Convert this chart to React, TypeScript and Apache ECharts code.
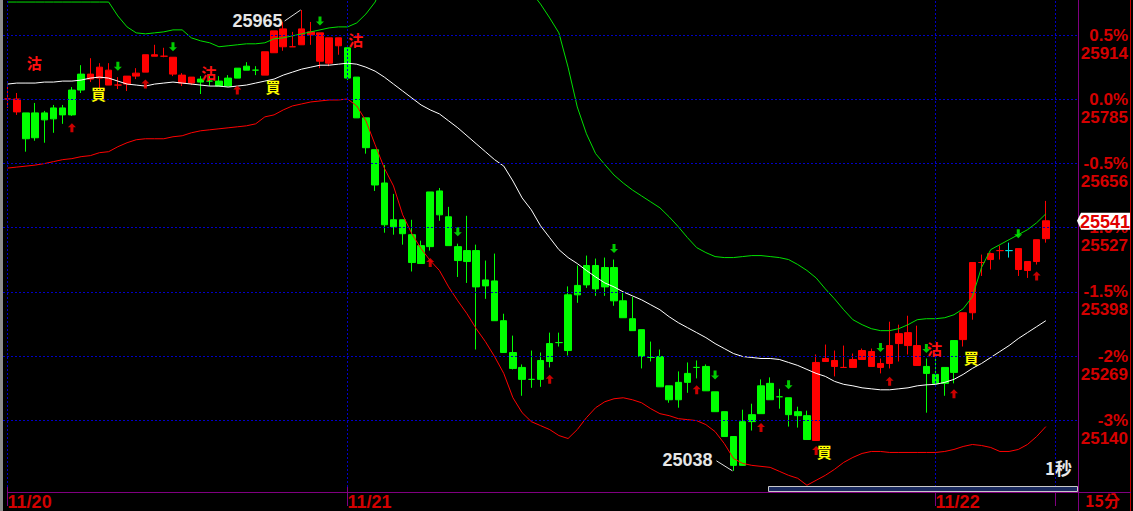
import React, { useEffect, useRef } from 'react';
import * as echarts from 'echarts';

// ---- axis / session data ----
const slotCount = 117;
const dateLabels = ['11/20', '11/21', '11/22'];
const dateStartIndex = [0, 37, 101];
const dividerIndex = [0, 37, 101, 114];
const priceTicks = [25914, 25785, 25656, 25527, 25398, 25269, 25140];
const pctLabels = ['0.5%', '0.0%', '-0.5%', '-1.0%', '-1.5%', '-2%', '-3%'];
const yMin = 25005.5;
const yMax = 25985.1;

// ---- 15-minute candles: [open, close, low, high] ----
const candles: number[][] = [
  [25786, 25786, 25768, 25812], [25760, 25786, 25754, 25798], [25758, 25706, 25680, 25758], [25758, 25708, 25702, 25778],
  [25758, 25744, 25698, 25762], [25768, 25746, 25718, 25774], [25768, 25754, 25736, 25774], [25804, 25754, 25752, 25810],
  [25836, 25804, 25798, 25854], [25826, 25836, 25820, 25868], [25828, 25850, 25808, 25858], [25814, 25844, 25814, 25858],
  [25814, 25814, 25806, 25830], [25816, 25832, 25802, 25832], [25832, 25838, 25826, 25848], [25840, 25875, 25840, 25875],
  [25872, 25875, 25872, 25895], [25872, 25872, 25870, 25889], [25836, 25870, 25832, 25870], [25818, 25834, 25812, 25838],
  [25818, 25830, 25814, 25830], [25826, 25820, 25796, 25832], [25822, 25822, 25812, 25832], [25822, 25812, 25812, 25832],
  [25828, 25812, 25812, 25834], [25848, 25828, 25828, 25848], [25852, 25844, 25844, 25860], [25844, 25844, 25834, 25852],
  [25834, 25881, 25834, 25881], [25879, 25923, 25879, 25923], [25891, 25927, 25883, 25941], [25891, 25891, 25891, 25921],
  [25895, 25927, 25895, 25965], [25915, 25921, 25895, 25941], [25862, 25919, 25848, 25919], [25858, 25909, 25852, 25909],
  [25893, 25909, 25875, 25909], [25889, 25828, 25824, 25889], [25830, 25748, 25748, 25830], [25748, 25688, 25676, 25748],
  [25684, 25613, 25601, 25684], [25617, 25533, 25517, 25653], [25543, 25529, 25513, 25595], [25543, 25515, 25493, 25543],
  [25513, 25457, 25439, 25543], [25491, 25455, 25455, 25501], [25599, 25489, 25481, 25599], [25601, 25553, 25541, 25607],
  [25549, 25491, 25491, 25569], [25489, 25461, 25428, 25495], [25481, 25459, 25416, 25551], [25481, 25408, 25282, 25493],
  [25422, 25410, 25384, 25461], [25420, 25340, 25340, 25475], [25340, 25276, 25276, 25354], [25276, 25244, 25242, 25310],
  [25246, 25222, 25189, 25252], [25222, 25222, 25205, 25280], [25260, 25222, 25207, 25276], [25294, 25258, 25246, 25316],
  [25296, 25296, 25288, 25316], [25392, 25280, 25270, 25409], [25411, 25392, 25376, 25451], [25451, 25412, 25406, 25471],
  [25451, 25404, 25390, 25465], [25447, 25408, 25390, 25467], [25447, 25380, 25370, 25463], [25380, 25346, 25346, 25396],
  [25344, 25320, 25320, 25388], [25322, 25268, 25244, 25322], [25266, 25266, 25258, 25298], [25268, 25207, 25207, 25282],
  [25209, 25181, 25175, 25209], [25216, 25181, 25165, 25238], [25234, 25216, 25195, 25256], [25246, 25246, 25224, 25260],
  [25248, 25199, 25199, 25252], [25197, 25157, 25157, 25197], [25157, 25107, 25107, 25157], [25107, 25049, 25038, 25107],
  [25137, 25049, 25049, 25161], [25151, 25137, 25119, 25173], [25209, 25153, 25153, 25222], [25214, 25181, 25181, 25226],
  [25187, 25187, 25163, 25203], [25185, 25151, 25127, 25185], [25157, 25149, 25125, 25167], [25149, 25101, 25101, 25159],
  [25099, 25256, 25099, 25272], [25258, 25264, 25258, 25292], [25248, 25260, 25228, 25280], [25246, 25246, 25246, 25290],
  [25246, 25262, 25246, 25274], [25262, 25280, 25262, 25284], [25248, 25278, 25248, 25284], [25246, 25254, 25234, 25264],
  [25254, 25290, 25244, 25338], [25294, 25314, 25258, 25332], [25290, 25316, 25272, 25350], [25250, 25290, 25250, 25330],
  [25248, 25234, 25155, 25264], [25232, 25214, 25214, 25274], [25246, 25214, 25189, 25246], [25300, 25236, 25214, 25300],
  [25302, 25356, 25288, 25356], [25356, 25457, 25342, 25457], [25457, 25457, 25430, 25473], [25463, 25475, 25443, 25477],
  [25481, 25481, 25463, 25491], [25481, 25481, 25467, 25497], [25443, 25485, 25430, 25485], [25441, 25459, 25426, 25459],
  [25459, 25503, 25453, 25503], [25505, 25541, 25497, 25581],
];

// doji candles colour: [index, colour]
const dojiColors: [number, string][] = [
  [0, '#ff0000'], [12, '#ff0000'], [17, '#ff0000'], [22, '#00ff00'], [27, '#00ff00'], [31, '#ff0000'],
  [57, '#00ff00'], [60, '#00ff00'], [70, '#00ff00'], [75, '#00ff00'], [84, '#00ff00'], [91, '#ff0000'],
  [106, '#ff0000'], [108, '#ff0000'], [109, '#00e0e0'],
];

// ---- bands ----
const upperBand = [
  25981, 25981, 25981, 25981, 25981, 25981, 25981, 25981, 25981, 25981, 25981, 25981,
  25953, 25931, 25919, 25917, 25919, 25921, 25925, 25925, 25909, 25903, 25899, 25891,
  25893, 25895, 25897, 25897, 25899, 25907, 25909, 25913, 25917, 25921, 25925, 25929,
  25931, 25931, 25939, 25957, 25981, 26025, 26065, 26105, 26135, 26155, 26175, 26185,
  26195, 26195, 26195, 26185, 26175, 26155, 26125, 26095, 26065, 26001, 25977, 25949,
  25919, 25850, 25770, 25716, 25676, 25654, 25633, 25617, 25603, 25591, 25579, 25567,
  25549, 25529, 25507, 25487, 25477, 25469, 25467, 25467, 25469, 25471, 25471, 25469,
  25467, 25463, 25453, 25441, 25426, 25404, 25384, 25362, 25342, 25332, 25324, 25320,
  25320, 25324, 25332, 25342, 25344, 25344, 25346, 25352, 25364, 25388, 25447, 25483,
  25493, 25503, 25513, 25523, 25537, 25555,
];
const midBand = [
  25816, 25818, 25818, 25818, 25820, 25820, 25822, 25822, 25824, 25828, 25830, 25828,
  25822, 25816, 25814, 25812, 25816, 25818, 25820, 25818, 25816, 25814, 25812, 25812,
  25810, 25812, 25814, 25818, 25822, 25826, 25834, 25840, 25846, 25850, 25854, 25854,
  25856, 25858, 25856, 25850, 25842, 25830, 25816, 25802, 25788, 25774, 25764, 25756,
  25742, 25728, 25712, 25696, 25680, 25664, 25651, 25621, 25587, 25563, 25531, 25507,
  25483, 25467, 25455, 25441, 25428, 25416, 25408, 25398, 25390, 25382, 25372, 25362,
  25348, 25336, 25326, 25316, 25306, 25294, 25284, 25274, 25268, 25266, 25264, 25264,
  25262, 25256, 25250, 25242, 25234, 25228, 25218, 25212, 25209, 25205, 25203, 25201,
  25201, 25203, 25205, 25209, 25211, 25212, 25216, 25222, 25232, 25244, 25254, 25266,
  25278, 25290, 25304, 25316, 25328, 25340,
];
const lowerBand = [
  25647, 25649, 25651, 25653, 25656, 25660, 25664, 25666, 25670, 25672, 25678, 25680,
  25690, 25698, 25704, 25706, 25706, 25706, 25710, 25712, 25718, 25722, 25724, 25726,
  25728, 25730, 25732, 25736, 25750, 25754, 25764, 25772, 25776, 25780, 25782, 25784,
  25784, 25786, 25772, 25742, 25694, 25647, 25611, 25553, 25515, 25485, 25461, 25441,
  25408, 25380, 25354, 25324, 25298, 25268, 25234, 25185, 25155, 25137, 25129, 25121,
  25109, 25103, 25121, 25145, 25165, 25177, 25183, 25185, 25181, 25175, 25163, 25153,
  25149, 25143, 25141, 25139, 25131, 25117, 25093, 25063, 25053, 25049, 25047, 25045,
  25037, 25029, 25023, 25009, 25019, 25029, 25041, 25055, 25065, 25073, 25077, 25077,
  25075, 25075, 25075, 25075, 25075, 25075, 25077, 25081, 25087, 25091, 25089, 25085,
  25077, 25077, 25081, 25091, 25107, 25127,
];

// ---- signals: [index, price] ----
const upArrows = [[7, 25728], [15, 25816], [25, 25804], [46, 25457], [59, 25222], [75, 25201], [82, 25125], [88, 25079], [96, 25218], [103, 25193], [112, 25430]];
const downArrows = [[12, 25852], [18, 25891], [34, 25943], [49, 25519], [66, 25485], [77, 25231], [85, 25211], [95, 25286], [100, 25284], [110, 25515]];
const sellMarks = [[3, 25860], [22, 25840], [38, 25905], [101, 25284]];
const buyMarks = [[10, 25798], [29, 25812], [89, 25077], [105, 25266]];

const categories = Array.from({ length: slotCount }, (_, i) => String(i));

const RED_TEXT = '#d40000';
const PURPLE = '#800080';
const GRID_BLUE = '#0000c8';
const UP_ARROW = 'path://M4,0 L8,4 L5.5,4 L5.5,9 L2.5,9 L2.5,4 L0,4 Z';
const DOWN_ARROW = 'path://M2.5,0 L5.5,0 L5.5,5 L8,5 L4,9 L0,5 L2.5,5 Z';

export default function App() {
  const ref = useRef<HTMLDivElement>(null);
  useEffect(() => {
    document.body.style.margin = '0';
    document.body.style.background = '#000';
    const chart = echarts.init(ref.current as HTMLDivElement, null, { renderer: 'svg' });

    const dojiMap = new Map(dojiColors);
    const candleData = candles.map((c, i) => {
      const col = dojiMap.get(i);
      if (!col) return c;
      return { value: c, itemStyle: { color: col, color0: col, borderColor: col, borderColor0: col, borderColorDoji: col } };
    });

    const option: any = {
      animation: false,
      backgroundColor: '#000',
      grid: { left: 3, right: 55, top: 0, bottom: 19 },
      xAxis: {
        type: 'category',
        data: categories,
        boundaryGap: true,
        axisLine: { show: false },
        axisTick: {
          show: true,
          alignWithLabel: true,
          length: 19,
          interval: (idx: number) => dividerIndex.includes(idx),
          lineStyle: { color: PURPLE, width: 1 },
        },
        axisLabel: {
          interval: (idx: number) => dateStartIndex.includes(idx),
          formatter: (_v: string, idx: number) => {
            const k = dateStartIndex.indexOf(idx);
            return k >= 0 ? dateLabels[k] : '';
          },
          color: RED_TEXT,
          fontSize: 18,
          fontWeight: 'bold',
          fontFamily: 'Liberation Sans',
          align: 'left',
          margin: 6,
        },
        splitLine: { show: false },
      },
      yAxis: {
        type: 'value',
        position: 'right',
        min: yMin,
        max: yMax,
        axisLine: { show: false },
        axisTick: { show: false },
        splitLine: { show: false },
        axisLabel: {
          customValues: priceTicks,
          formatter: (v: number) => {
            const k = priceTicks.findIndex((t) => Math.abs(t - v) < 0.5);
            return k >= 0 ? ' \n' + pctLabels[k] + '\n' + String(priceTicks[k]) : '';
          },
          color: RED_TEXT,
          fontSize: 17,
          fontWeight: 'bold',
          fontFamily: 'Liberation Sans',
          align: 'right',
          margin: 50,
          lineHeight: 18,
          verticalAlign: 'middle',
        },
      },
      series: [
        {
          type: 'candlestick',
          data: candleData,
          barWidth: 7,
          itemStyle: {
            color: '#ff0000',
            color0: '#00ff00',
            borderColor: '#ff0000',
            borderColor0: '#00ff00',
            borderWidth: 1,
          },
          markLine: {
            silent: true,
            symbol: ['none', 'none'],
            label: { show: false },
            lineStyle: { color: GRID_BLUE, type: [2, 2], width: 1 },
            data: [
              ...priceTicks.map((v) => ({ yAxis: v })),
              ...dividerIndex.map((i) => ({ xAxis: String(i) })),
            ],
          },
          z: 2,
        },
        { type: 'line', data: upperBand, symbol: 'none', lineStyle: { color: '#00e000', width: 1 }, z: 3 },
        { type: 'line', data: midBand, symbol: 'none', lineStyle: { color: '#ffffff', width: 1 }, z: 3 },
        { type: 'line', data: lowerBand, symbol: 'none', lineStyle: { color: '#ff0000', width: 1 }, z: 3 },
        { type: 'scatter', data: upArrows, symbol: UP_ARROW, symbolSize: [8, 9], itemStyle: { color: '#ff0000' }, z: 4 },
        { type: 'scatter', data: downArrows, symbol: DOWN_ARROW, symbolSize: [8, 9], itemStyle: { color: '#00ff00' }, z: 4 },
      ],
    };
    chart.setOption(option);

    const px = (i: number, p: number) => chart.convertToPixel({ gridIndex: 0 } as any, [i, p]) as number[];
    const highs = candles.map((c) => c[3]);
    const lows = candles.map((c) => c[2]);
    const hiVal = Math.max(...highs);
    const loVal = Math.min(...lows);
    const hiIdx = highs.indexOf(hiVal);
    const loIdx = lows.indexOf(loVal);
    const [hx, hy] = px(hiIdx, hiVal);
    const [lx, ly] = px(loIdx, loVal);
    const last = candles[candles.length - 1][1];
    const [, cy] = px(candles.length - 1, last);

    const g: any[] = [];
    g.push({ type: 'rect', shape: { x: 0, y: 0, width: 3, height: 511 }, style: { fill: '#8c8c8c' }, z: 50 });
    g.push({ type: 'line', shape: { x1: 1078.5, y1: 0, x2: 1078.5, y2: 511 }, style: { stroke: PURPLE, lineWidth: 1 }, z: 50 });
    g.push({ type: 'line', shape: { x1: 1130.5, y1: 0, x2: 1130.5, y2: 511 }, style: { stroke: '#c00000', lineWidth: 1 }, z: 50 });
    g.push({ type: 'line', shape: { x1: 7, y1: 492.5, x2: 1131, y2: 492.5 }, style: { stroke: PURPLE, lineWidth: 1 }, z: 50 });
    g.push({ type: 'rect', shape: { x: 768.5, y: 486.5, width: 309, height: 5 }, style: { fill: '#1a2a5e', stroke: '#c8c8c8', lineWidth: 1 }, z: 60 });
    g.push({ type: 'text', x: 1045, y: 467, style: { text: '1秒', fill: '#e8e8e8', font: 'bold 17px "Noto Sans CJK TC"', textAlign: 'left', textVerticalAlign: 'middle', align: 'left', verticalAlign: 'middle' }, z: 60 });
    g.push({ type: 'text', x: 1085, y: 500, style: { text: '15分', fill: RED_TEXT, font: 'bold 16px "Noto Sans CJK TC"', textAlign: 'left', textVerticalAlign: 'middle', align: 'left', verticalAlign: 'middle' }, z: 60 });

    // extreme labels
    g.push({ type: 'line', shape: { x1: hx - 17, y1: hy + 11, x2: hx - 1, y2: hy }, style: { stroke: '#e0e0e0', lineWidth: 1 }, z: 60 });
    g.push({ type: 'text', x: hx - 19, y: hy + 11, style: { text: String(hiVal), fill: '#e6e6e6', font: 'bold 18px "Liberation Sans"', textAlign: 'right', textVerticalAlign: 'middle', align: 'right', verticalAlign: 'middle' }, z: 60 });
    g.push({ type: 'line', shape: { x1: lx - 17, y1: ly - 10, x2: lx - 1, y2: ly }, style: { stroke: '#e0e0e0', lineWidth: 1 }, z: 60 });
    g.push({ type: 'text', x: lx - 21, y: ly - 11, style: { text: String(loVal), fill: '#e6e6e6', font: 'bold 18px "Liberation Sans"', textAlign: 'right', textVerticalAlign: 'middle', align: 'right', verticalAlign: 'middle' }, z: 60 });

    // signal texts
    sellMarks.forEach(([i, p]) => {
      const [x, y] = px(i, p);
      g.push({ type: 'text', x: x - 1, y, style: { text: '沽', fill: '#ff1010', font: 'bold 15px "Noto Sans CJK TC"', textAlign: 'center', textVerticalAlign: 'middle', align: 'center', verticalAlign: 'middle' }, z: 55 });
    });
    buyMarks.forEach(([i, p]) => {
      const [x, y] = px(i, p);
      g.push({ type: 'text', x: x - 1, y, style: { text: '買', fill: '#ffff00', font: 'bold 15px "Noto Sans CJK TC"', textAlign: 'center', textVerticalAlign: 'middle', align: 'center', verticalAlign: 'middle' }, z: 55 });
    });

    // current price box
    g.push({ type: 'polygon', shape: { points: [[1077, cy], [1081, cy - 8], [1130, cy - 8], [1130, cy + 9], [1081, cy + 9]] }, style: { fill: '#ffffff' }, z: 70 });
    g.push({ type: 'text', x: 1105, y: cy + 1, style: { text: String(last), fill: '#e00000', font: 'bold 18px "Liberation Sans"', textAlign: 'center', textVerticalAlign: 'middle', align: 'center', verticalAlign: 'middle' }, z: 71 });

    chart.setOption({ graphic: g });
    return () => chart.dispose();
  }, []);
  return <div ref={ref} style={{ width: 1133, height: 511, background: '#000' }} />;
}
